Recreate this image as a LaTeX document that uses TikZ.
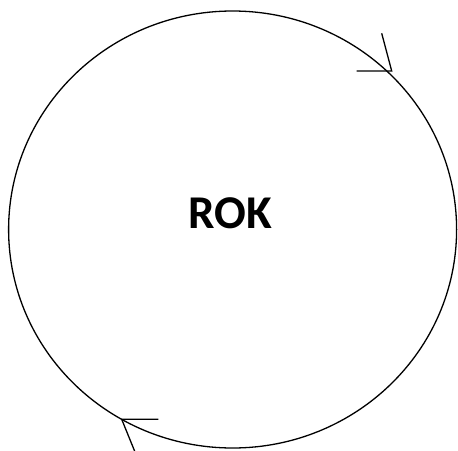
\documentclass[tikz,border=0pt]{standalone}
\usepackage{fontspec}
\setmainfont{Carlito}
\begin{document}
\begin{tikzpicture}[x=1pt,y=-1pt,line width=1.3pt,
  ring/.style={draw=black},
  tipline/.style={draw=black},
  label/.style={font=\fontsize{47}{52}\selectfont\bfseries}]
\useasboundingbox (0,0) rectangle (458,450);
\draw[ring] (232.6,229.5) ellipse [x radius=224, y radius=218.5];
\coordinate (t1) at (391.7,71);
\coordinate (a1) at (381.7,33.3);
\coordinate (b1) at (356.7,71);
\draw[tipline] (a1) -- (t1) -- (b1);
\coordinate (t2) at (121.7,419.3);
\coordinate (a2) at (158.3,419.3);
\coordinate (b2) at (135,452);
\draw[tipline] (a2) -- (t2) -- (b2);
\node[label] (rok) at (230,213) {ROK};
\end{tikzpicture}
\end{document}
